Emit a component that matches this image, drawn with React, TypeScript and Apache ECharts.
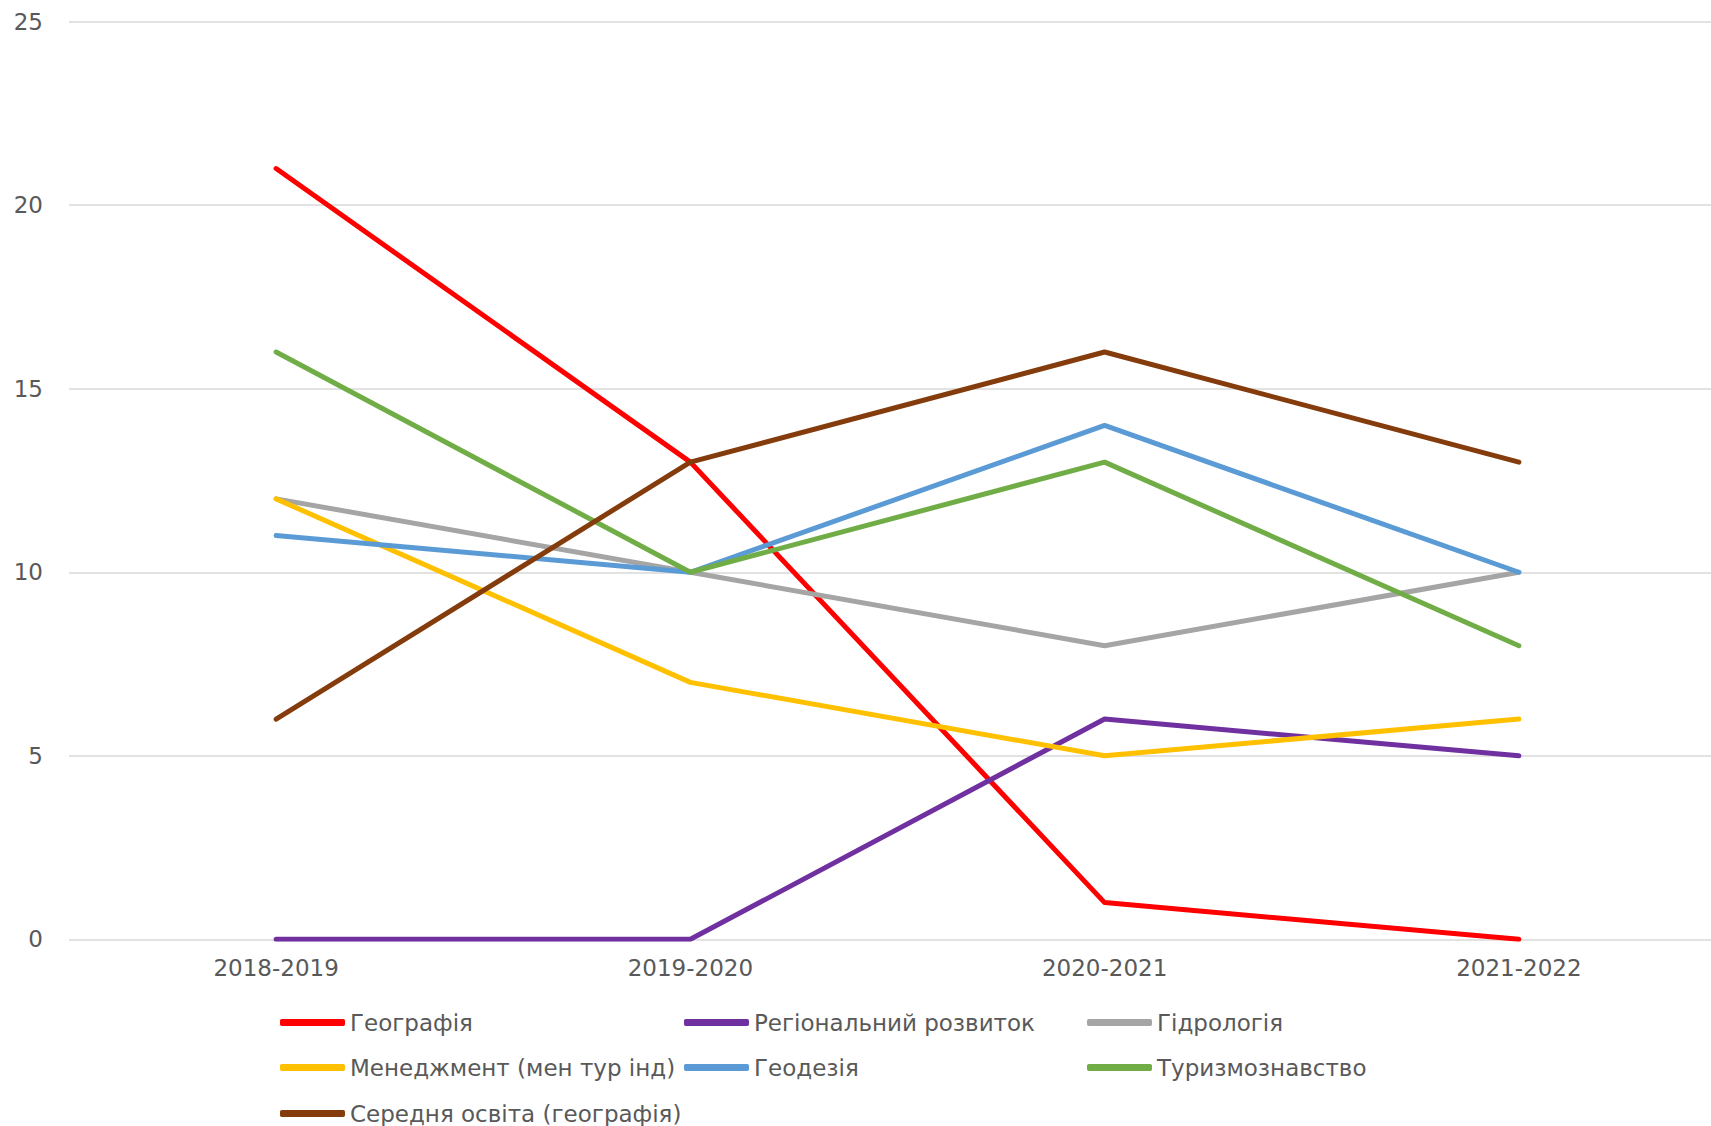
import React, { useEffect, useRef } from "react";
import * as echarts from "echarts";

const categories = ["2018-2019", "2019-2020", "2020-2021", "2021-2022"];
const seriesNames = [
  "Географія",
  "Регіональний розвиток",
  "Гідрологія",
  "Менеджмент (мен тур інд)",
  "Геодезія",
  "Туризмознавство",
  "Середня освіта (географія)",
];
const geography = [21, 13, 1, 0];
const regional = [0, 0, 6, 5];
const hydrology = [12, 10, 8, 10];
const management = [12, 7, 5, 6];
const geodesy = [11, 10, 14, 10];
const tourism = [16, 10, 13, 8];
const secondary = [6, 13, 16, 13];
const seriesValues = [geography, regional, hydrology, management, geodesy, tourism, secondary];
const colors = ["#FF0000", "#7030A0", "#A5A5A5", "#FFC000", "#5B9BD5", "#70AD47", "#843C0C"];
const yTicks = { min: 0, max: 25, interval: 5 };

// legend grid placement: [left, top]
const legendPos: [number, number][] = [
  [280, 1011],
  [684, 1011],
  [1087, 1011],
  [280, 1056],
  [684, 1056],
  [1087, 1056],
  [280, 1102],
];

const FONT = "DejaVu Sans";
const TEXT_COLOR = "#595959";

export default function App() {
  const ref = useRef<HTMLDivElement>(null);
  useEffect(() => {
    if (!ref.current) return;
    const chart = echarts.init(ref.current, null, { renderer: "svg" });
    chart.setOption({
      animation: false,
      backgroundColor: "#ffffff",
      grid: { left: 69, top: 21.7, width: 1657, height: 917.6, containLabel: false },
      xAxis: {
        type: "category",
        data: categories,
        boundaryGap: true,
        axisLine: { show: false },
        axisTick: { show: false },
        axisLabel: { color: TEXT_COLOR, fontFamily: FONT, fontSize: 23, margin: 17 },
      },
      yAxis: {
        type: "value",
        min: yTicks.min,
        max: yTicks.max,
        interval: yTicks.interval,
        axisLine: { show: false },
        axisTick: { show: false },
        axisLabel: { color: TEXT_COLOR, fontFamily: FONT, fontSize: 23, margin: 26 },
        splitLine: { lineStyle: { color: "#D9D9D9", width: 1.5 } },
      },
      legend: seriesNames.map((name, i) => ({
        data: [name],
        left: legendPos[i][0],
        top: legendPos[i][1],
        padding: 0,
        itemWidth: 65,
        itemHeight: 7,
        icon: "roundRect",
        textStyle: { color: TEXT_COLOR, fontFamily: FONT, fontSize: 23 },
      })),
      series: seriesNames.map((name, i) => ({
        name,
        type: "line",
        data: seriesValues[i],
        symbol: "none",
        color: colors[i],
        lineStyle: { color: colors[i], width: 5, cap: "round", join: "round" },
      })),
    });
    return () => chart.dispose();
  }, []);
  return (
    <div
      style={{
        position: "absolute",
        left: 0,
        top: 0,
        width: 1711,
        height: 1126,
        overflow: "hidden",
        background: "#fff",
      }}
    >
      <div ref={ref} style={{ width: 1740, height: 1126 }} />
    </div>
  );
}
